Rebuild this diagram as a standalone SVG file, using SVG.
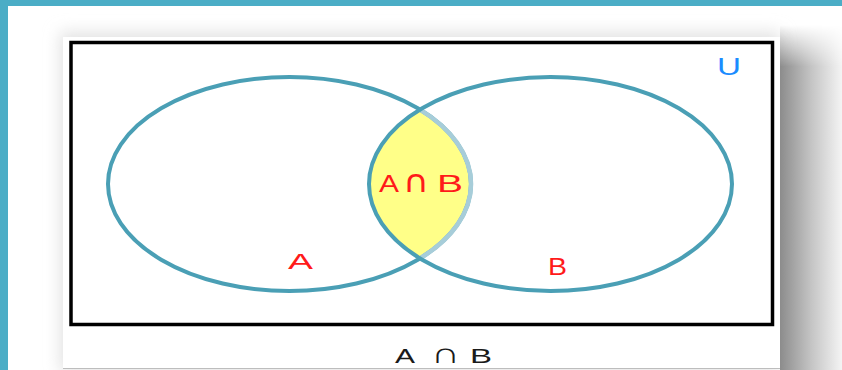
<svg xmlns="http://www.w3.org/2000/svg" width="842" height="370" viewBox="0 0 842 370">
  <defs>
    <filter id="blurT" x="-20%" y="-50%" width="140%" height="200%">
      <feGaussianBlur stdDeviation="8"/>
    </filter>
    <linearGradient id="shH" x1="0" y1="0" x2="1" y2="0">
      <stop offset="0" stop-color="#8c8c8c"/>
      <stop offset="0.5" stop-color="#c4c4c4"/>
      <stop offset="1" stop-color="#f4f4f4"/>
    </linearGradient>
    <linearGradient id="fadeV" x1="0" y1="0" x2="0" y2="1">
      <stop offset="0" stop-color="#fff" stop-opacity="0"/>
      <stop offset="0.12" stop-color="#fff" stop-opacity="1"/>
      <stop offset="1" stop-color="#fff" stop-opacity="1"/>
    </linearGradient>
    <mask id="mV">
      <rect x="780" y="25" width="62" height="345" fill="url(#fadeV)"/>
    </mask>
    <style>
      .set { fill: none; stroke: #4a9fb5; stroke-width: 4; }
      .lbl { font-family: "Liberation Sans", Arial, sans-serif; fill: #ff1a1a; }
      .sym { font-family: "DejaVu Sans", sans-serif; }
      .cap { font-family: "Liberation Sans", Arial, sans-serif; fill: #1a1a1a; }
    </style>
  </defs>
  <rect x="0" y="0" width="842" height="370" fill="#ffffff"/>
  <!-- shadows -->
  <rect x="60" y="32" width="720" height="340" fill="#e2e2e2" filter="url(#blurT)"/>
  <rect x="780" y="25" width="62" height="345" fill="url(#shH)" mask="url(#mV)"/>
  <!-- card -->
  <rect id="card" x="63" y="37" width="717" height="331" fill="#ffffff"/>
  <line x1="63" y1="368.5" x2="780" y2="368.5" stroke="#bdbdbd" stroke-width="1"/>
  <!-- teal frame -->
  <rect x="0" y="0" width="842" height="6" fill="#4badc6"/>
  <rect x="0" y="0" width="8" height="370" fill="#4badc6"/>
  <!-- universe -->
  <g id="universe">
    <rect x="71" y="42.5" width="701.5" height="282" fill="none" stroke="#000" stroke-width="3.5"/>
    <text x="717" y="75" font-family="Liberation Sans, Arial, sans-serif" font-size="23" fill="#1a8cff" textLength="24" lengthAdjust="spacingAndGlyphs">U</text>
  </g>
  <g id="intersection">
    <path d="M420,109.6 A181.5,107 0 0,1 420,258.4 A181.5,107 0 0,1 420,109.6 Z" fill="#ffff88"/>
  </g>
  <g id="set-A">
    <ellipse class="set" cx="289.5" cy="184" rx="181.5" ry="107"/>
    <path d="M420,109.6 A181.5,107 0 0,1 420,258.4" fill="none" stroke="#a7cdd9" stroke-width="4.5"/>
    <text class="lbl" x="288" y="269" font-size="22" textLength="25" lengthAdjust="spacingAndGlyphs">A</text>
  </g>
  <g id="set-B">
    <ellipse class="set" cx="550.5" cy="184" rx="181.5" ry="107"/>
    <text class="lbl" x="548" y="275" font-size="24" textLength="19" lengthAdjust="spacingAndGlyphs">B</text>
  </g>
  <g id="intersection-label">
    <text class="lbl" x="379" y="192" font-size="23" textLength="20" lengthAdjust="spacingAndGlyphs">A</text>
    <text class="lbl sym" x="403" y="192" font-size="31" textLength="26" lengthAdjust="spacingAndGlyphs">∩</text>
    <text class="lbl" x="437" y="192" font-size="23" textLength="26" lengthAdjust="spacingAndGlyphs">B</text>
  </g>
  <g id="caption">
    <text class="cap" x="395" y="363" font-size="21" textLength="20" lengthAdjust="spacingAndGlyphs">A</text>
    <text class="cap sym" x="431" y="363" font-size="29" textLength="29" lengthAdjust="spacingAndGlyphs">∩</text>
    <text class="cap" x="470" y="363" font-size="21" textLength="22" lengthAdjust="spacingAndGlyphs">B</text>
  </g>
</svg>
